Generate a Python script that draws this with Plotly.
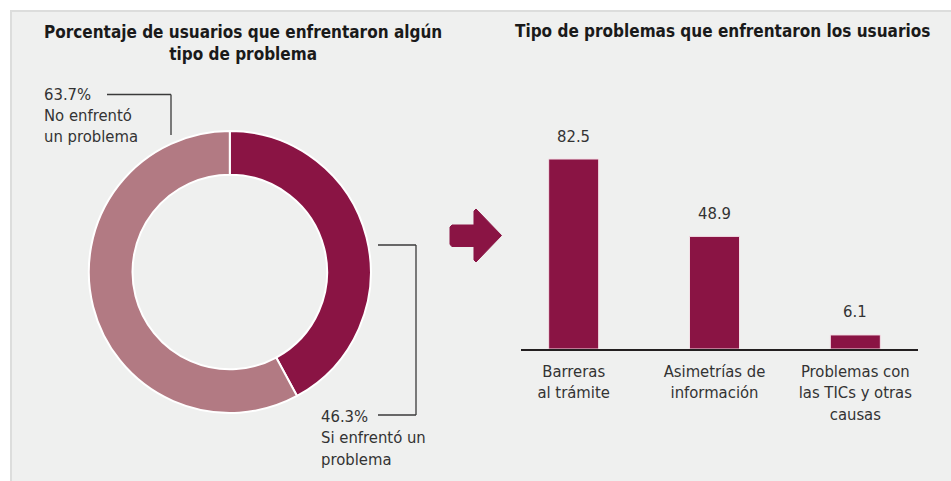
import plotly.graph_objects as go

W, H = 951, 481

# ---- data ----
pie_labels = ["Si enfrentó un problema", "No enfrentó un problema"]
pie_values = [46.3, 63.7]
pie_colors = ["#8a1444", "#b27a83"]

bar_categories = ["Barreras<br>al trámite", "Asimetrías de<br>información",
                  "Problemas con<br>las TICs y otras<br>causas"]
bar_values = [82.5, 48.9, 6.1]
bar_color = "#8a1444"

title_left = "Porcentaje de usuarios que enfrentaron algún<br>tipo de problema"
title_right = "Tipo de problemas que enfrentaron los usuarios"

FONT = "DejaVu Sans Condensed, Liberation Sans Narrow, sans-serif"
TXT = "#333333"
LBL = 16.5


def px(x):
    return x / W


def py(y):
    return 1 - y / H


fig = go.Figure()

fig.add_trace(go.Pie(
    labels=pie_labels, values=pie_values, sort=False, direction="clockwise",
    rotation=0, hole=0.69, textinfo="none", hoverinfo="skip", showlegend=False,
    marker=dict(colors=pie_colors, line=dict(color="white", width=2)),
    domain=dict(x=[px(88.8), px(370.8)], y=[py(413), py(131)]),
))

fig.add_trace(go.Bar(
    x=bar_categories, y=bar_values, width=0.355, marker_color=bar_color,
    marker_line=dict(color="#f4dfe6", width=1), showlegend=False, hoverinfo="skip",
))

ymax = (349 - 100) / 2.303
fig.update_layout(
    width=W, height=H, margin=dict(l=0, r=0, t=0, b=0),
    paper_bgcolor="white", plot_bgcolor="rgba(0,0,0,0)",
    font=dict(family=FONT, size=LBL, color=TXT),
    xaxis=dict(domain=[px(521), px(918)], type="category", range=[-0.374, 2.445],
               showline=True, linecolor="#231f20", linewidth=2, showgrid=False,
               zeroline=False, ticks="outside", ticklen=6, tickcolor="rgba(0,0,0,0)",
               tickfont=dict(family=FONT, size=LBL, color=TXT), fixedrange=True),
    yaxis=dict(domain=[py(349), py(100)], range=[0, ymax], visible=False, fixedrange=True),
    bargap=0,
)

shapes = []
# gray panel
shapes.append(dict(type="rect", xref="paper", yref="paper", layer="below",
                   x0=px(11), x1=px(960), y0=py(490), y1=py(11),
                   fillcolor="#eff0ef", line=dict(color="#dcdddc", width=2)))


def seg(x0, y0, x1, y1):
    return dict(type="line", xref="paper", yref="paper", x0=px(x0), y0=py(y0),
                x1=px(x1), y1=py(y1), line=dict(color="#3a3a3a", width=1.3))


shapes += [seg(107, 94.5, 171, 94.5), seg(171, 94.5, 171, 135),
           seg(378, 245, 416, 245), seg(416, 245, 416, 415), seg(378, 415, 416, 415)]

# arrow
pts = [(452, 225), (474, 225), (474, 211), (476, 209), (501.5, 235.5),
       (476, 262), (474, 260), (474, 246.5), (452, 246.5), (450, 244.5), (450, 227)]
path = "M " + " L ".join(f"{px(a):.5f},{py(b):.5f}" for a, b in pts) + " Z"
shapes.append(dict(type="path", xref="paper", yref="paper", path=path,
                   fillcolor=bar_color, line=dict(color=bar_color, width=1)))
fig.update_layout(shapes=shapes)

ann = []
ann.append(dict(text=f"<b>{title_left}</b>", x=px(243), y=py(43), xref="paper", yref="paper",
                showarrow=False, xanchor="center", yanchor="middle",
                font=dict(family=FONT, size=17, color="#1a1a1a")))
ann.append(dict(text=f"<b>{title_right}</b>", x=px(722), y=py(31), xref="paper", yref="paper",
                showarrow=False, xanchor="center", yanchor="middle",
                font=dict(family=FONT, size=17, color="#1a1a1a")))

left_lines = [f"{pie_values[1]}%", "No enfrentó", "un problema"]
for i, t in enumerate(left_lines):
    ann.append(dict(text=t, x=px(42), y=py(94 + 21 * i), xref="paper", yref="paper",
                    showarrow=False, xanchor="left", yanchor="middle",
                    font=dict(family=FONT, size=LBL, color=TXT)))
right_lines = [f"{pie_values[0]}%", "Si enfrentó un", "problema"]
for i, t in enumerate(right_lines):
    ann.append(dict(text=t, x=px(319), y=py(416 + 21.5 * i), xref="paper", yref="paper",
                    showarrow=False, xanchor="left", yanchor="middle",
                    font=dict(family=FONT, size=LBL, color=TXT)))

for c, v in zip(bar_categories, bar_values):
    ann.append(dict(text=f"{v}", x=c, y=v, xref="x", yref="y", showarrow=False,
                    xanchor="center", yanchor="middle", yshift=23,
                    font=dict(family=FONT, size=LBL, color=TXT)))

fig.update_layout(annotations=ann)
fig.write_html("out.html", config={"displayModeBar": False, "staticPlot": True},
               post_script="document.body.style.margin='0';document.body.style.overflow='hidden';")
